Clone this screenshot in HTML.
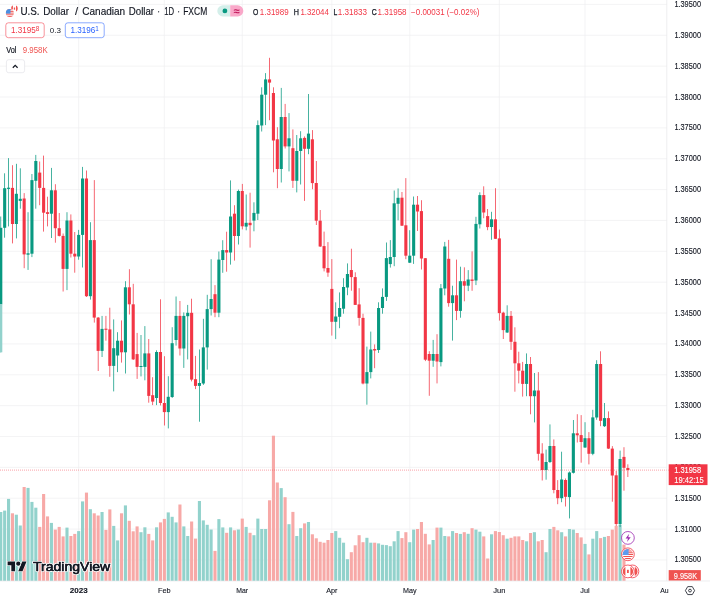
<!DOCTYPE html>
<html lang="en"><head><meta charset="utf-8"><title>USDCAD chart</title>
<style>
html,body{margin:0;padding:0;background:#fff;}
body{width:710px;height:600px;overflow:hidden;font-family:"Liberation Sans",sans-serif;}
svg{display:block;}
svg text{font-family:"Liberation Sans",sans-serif;}
.ax{font-size:8.2px;fill:#131722;stroke:#131722;stroke-width:0.12px;}
.tm{font-size:8.1px;fill:#131722;stroke:#131722;stroke-width:0.12px;}
.lg{font-size:8.4px;}
.lg[fill="#131722"]{stroke:#131722;stroke-width:0.25px;}
</style></head><body>
<svg width="710" height="600" viewBox="0 0 710 600">
<rect width="710" height="600" fill="#fff"/>
<g stroke="#EFEFF1" stroke-width="0.7" fill="none">
<line x1="0" y1="4.44" x2="666.8" y2="4.44"/>
<line x1="0" y1="35.3" x2="666.8" y2="35.3"/>
<line x1="0" y1="66.16" x2="666.8" y2="66.16"/>
<line x1="0" y1="97.02" x2="666.8" y2="97.02"/>
<line x1="0" y1="127.88" x2="666.8" y2="127.88"/>
<line x1="0" y1="158.74" x2="666.8" y2="158.74"/>
<line x1="0" y1="189.6" x2="666.8" y2="189.6"/>
<line x1="0" y1="220.46" x2="666.8" y2="220.46"/>
<line x1="0" y1="251.32" x2="666.8" y2="251.32"/>
<line x1="0" y1="282.18" x2="666.8" y2="282.18"/>
<line x1="0" y1="313.04" x2="666.8" y2="313.04"/>
<line x1="0" y1="343.9" x2="666.8" y2="343.9"/>
<line x1="0" y1="374.76" x2="666.8" y2="374.76"/>
<line x1="0" y1="405.62" x2="666.8" y2="405.62"/>
<line x1="0" y1="436.48" x2="666.8" y2="436.48"/>
<line x1="0" y1="467.34" x2="666.8" y2="467.34"/>
<line x1="0" y1="498.2" x2="666.8" y2="498.2"/>
<line x1="0" y1="529.06" x2="666.8" y2="529.06"/>
<line x1="0" y1="559.92" x2="666.8" y2="559.92"/>
<line x1="78.67" y1="0" x2="78.67" y2="581.0"/>
<line x1="164.36" y1="0" x2="164.36" y2="581.0"/>
<line x1="242.26" y1="0" x2="242.26" y2="581.0"/>
<line x1="331.85" y1="0" x2="331.85" y2="581.0"/>
<line x1="409.75" y1="0" x2="409.75" y2="581.0"/>
<line x1="499.34" y1="0" x2="499.34" y2="581.0"/>
<line x1="585.02" y1="0" x2="585.02" y2="581.0"/>
</g>
<g>
<rect x="-0.78" y="512" width="3.1" height="69" fill="#92D2CC"/>
<rect x="3.12" y="510.6" width="3.1" height="70.4" fill="#92D2CC"/>
<rect x="7.01" y="498.9" width="3.1" height="82.1" fill="#92D2CC"/>
<rect x="10.91" y="513.3" width="3.1" height="67.7" fill="#F7A9A7"/>
<rect x="14.8" y="514.7" width="3.1" height="66.3" fill="#92D2CC"/>
<rect x="18.7" y="525.5" width="3.1" height="55.5" fill="#92D2CC"/>
<rect x="22.6" y="487" width="3.1" height="94" fill="#F7A9A7"/>
<rect x="26.49" y="487.9" width="3.1" height="93.1" fill="#92D2CC"/>
<rect x="30.39" y="501.9" width="3.1" height="79.1" fill="#92D2CC"/>
<rect x="34.28" y="507.7" width="3.1" height="73.3" fill="#92D2CC"/>
<rect x="38.18" y="526.9" width="3.1" height="54.1" fill="#F7A9A7"/>
<rect x="42.07" y="494" width="3.1" height="87" fill="#F7A9A7"/>
<rect x="45.97" y="516.4" width="3.1" height="64.6" fill="#F7A9A7"/>
<rect x="49.86" y="522.9" width="3.1" height="58.1" fill="#92D2CC"/>
<rect x="53.76" y="529.6" width="3.1" height="51.4" fill="#F7A9A7"/>
<rect x="57.65" y="526.9" width="3.1" height="54.1" fill="#F7A9A7"/>
<rect x="61.55" y="536.4" width="3.1" height="44.6" fill="#F7A9A7"/>
<rect x="65.44" y="527.6" width="3.1" height="53.4" fill="#92D2CC"/>
<rect x="69.34" y="536" width="3.1" height="45" fill="#F7A9A7"/>
<rect x="73.23" y="533.9" width="3.1" height="47.1" fill="#F7A9A7"/>
<rect x="77.12" y="531.1" width="3.1" height="49.9" fill="#92D2CC"/>
<rect x="81.02" y="501.4" width="3.1" height="79.6" fill="#92D2CC"/>
<rect x="84.92" y="492.6" width="3.1" height="88.4" fill="#F7A9A7"/>
<rect x="88.81" y="509.2" width="3.1" height="71.8" fill="#92D2CC"/>
<rect x="92.7" y="513.3" width="3.1" height="67.7" fill="#F7A9A7"/>
<rect x="96.6" y="515.5" width="3.1" height="65.5" fill="#F7A9A7"/>
<rect x="100.5" y="512" width="3.1" height="69" fill="#92D2CC"/>
<rect x="104.39" y="529.9" width="3.1" height="51.1" fill="#F7A9A7"/>
<rect x="108.29" y="509.4" width="3.1" height="71.6" fill="#F7A9A7"/>
<rect x="112.18" y="525.9" width="3.1" height="55.1" fill="#92D2CC"/>
<rect x="116.08" y="540.4" width="3.1" height="40.6" fill="#92D2CC"/>
<rect x="119.97" y="513.3" width="3.1" height="67.7" fill="#F7A9A7"/>
<rect x="123.87" y="505.4" width="3.1" height="75.6" fill="#92D2CC"/>
<rect x="127.76" y="520.8" width="3.1" height="60.2" fill="#F7A9A7"/>
<rect x="131.65" y="531.3" width="3.1" height="49.7" fill="#F7A9A7"/>
<rect x="135.55" y="526.4" width="3.1" height="54.6" fill="#F7A9A7"/>
<rect x="139.44" y="532.2" width="3.1" height="48.8" fill="#92D2CC"/>
<rect x="143.34" y="527.3" width="3.1" height="53.7" fill="#92D2CC"/>
<rect x="147.23" y="533.9" width="3.1" height="47.1" fill="#F7A9A7"/>
<rect x="151.13" y="540.4" width="3.1" height="40.6" fill="#F7A9A7"/>
<rect x="155.02" y="527.3" width="3.1" height="53.7" fill="#92D2CC"/>
<rect x="158.92" y="522.4" width="3.1" height="58.6" fill="#F7A9A7"/>
<rect x="162.81" y="518.9" width="3.1" height="62.1" fill="#F7A9A7"/>
<rect x="166.71" y="512.4" width="3.1" height="68.6" fill="#92D2CC"/>
<rect x="170.6" y="516.8" width="3.1" height="64.2" fill="#92D2CC"/>
<rect x="174.5" y="522.4" width="3.1" height="58.6" fill="#92D2CC"/>
<rect x="178.39" y="504.5" width="3.1" height="76.5" fill="#F7A9A7"/>
<rect x="182.29" y="526.4" width="3.1" height="54.6" fill="#92D2CC"/>
<rect x="186.18" y="536" width="3.1" height="45" fill="#92D2CC"/>
<rect x="190.08" y="521.5" width="3.1" height="59.5" fill="#F7A9A7"/>
<rect x="193.97" y="538.6" width="3.1" height="42.4" fill="#F7A9A7"/>
<rect x="197.87" y="501" width="3.1" height="80" fill="#92D2CC"/>
<rect x="201.76" y="520.4" width="3.1" height="60.6" fill="#92D2CC"/>
<rect x="205.66" y="524.8" width="3.1" height="56.2" fill="#92D2CC"/>
<rect x="209.55" y="529.5" width="3.1" height="51.5" fill="#92D2CC"/>
<rect x="213.45" y="550.9" width="3.1" height="30.1" fill="#F7A9A7"/>
<rect x="217.34" y="519.1" width="3.1" height="61.9" fill="#92D2CC"/>
<rect x="221.24" y="527.4" width="3.1" height="53.6" fill="#92D2CC"/>
<rect x="225.13" y="532.8" width="3.1" height="48.2" fill="#F7A9A7"/>
<rect x="229.03" y="527.4" width="3.1" height="53.6" fill="#92D2CC"/>
<rect x="232.92" y="530.3" width="3.1" height="50.7" fill="#F7A9A7"/>
<rect x="236.82" y="529.5" width="3.1" height="51.5" fill="#92D2CC"/>
<rect x="240.71" y="518.6" width="3.1" height="62.4" fill="#F7A9A7"/>
<rect x="244.61" y="526.9" width="3.1" height="54.1" fill="#92D2CC"/>
<rect x="248.5" y="532.8" width="3.1" height="48.2" fill="#F7A9A7"/>
<rect x="252.4" y="535.2" width="3.1" height="45.8" fill="#92D2CC"/>
<rect x="256.3" y="518.6" width="3.1" height="62.4" fill="#92D2CC"/>
<rect x="260.19" y="529" width="3.1" height="52" fill="#92D2CC"/>
<rect x="264.08" y="529" width="3.1" height="52" fill="#92D2CC"/>
<rect x="267.98" y="500.3" width="3.1" height="80.7" fill="#F7A9A7"/>
<rect x="271.88" y="435.7" width="3.1" height="145.3" fill="#F7A9A7"/>
<rect x="275.77" y="482.5" width="3.1" height="98.5" fill="#F7A9A7"/>
<rect x="279.67" y="488.1" width="3.1" height="92.9" fill="#92D2CC"/>
<rect x="283.56" y="497.2" width="3.1" height="83.8" fill="#F7A9A7"/>
<rect x="287.45" y="524.2" width="3.1" height="56.8" fill="#92D2CC"/>
<rect x="291.35" y="511.9" width="3.1" height="69.1" fill="#F7A9A7"/>
<rect x="295.25" y="536" width="3.1" height="45" fill="#92D2CC"/>
<rect x="299.14" y="528.2" width="3.1" height="52.8" fill="#92D2CC"/>
<rect x="303.04" y="523.4" width="3.1" height="57.6" fill="#F7A9A7"/>
<rect x="306.93" y="522" width="3.1" height="59" fill="#92D2CC"/>
<rect x="310.82" y="534.3" width="3.1" height="46.7" fill="#F7A9A7"/>
<rect x="314.72" y="538.3" width="3.1" height="42.7" fill="#F7A9A7"/>
<rect x="318.62" y="541.8" width="3.1" height="39.2" fill="#F7A9A7"/>
<rect x="322.51" y="542.7" width="3.1" height="38.3" fill="#F7A9A7"/>
<rect x="326.41" y="540" width="3.1" height="41" fill="#F7A9A7"/>
<rect x="330.3" y="533" width="3.1" height="48" fill="#F7A9A7"/>
<rect x="334.19" y="531.1" width="3.1" height="49.9" fill="#92D2CC"/>
<rect x="338.09" y="537.8" width="3.1" height="43.2" fill="#92D2CC"/>
<rect x="341.99" y="542.7" width="3.1" height="38.3" fill="#92D2CC"/>
<rect x="345.88" y="559.2" width="3.1" height="21.8" fill="#92D2CC"/>
<rect x="349.78" y="552.2" width="3.1" height="28.8" fill="#F7A9A7"/>
<rect x="353.67" y="545.3" width="3.1" height="35.7" fill="#F7A9A7"/>
<rect x="357.56" y="535.2" width="3.1" height="45.8" fill="#F7A9A7"/>
<rect x="361.46" y="542.2" width="3.1" height="38.8" fill="#F7A9A7"/>
<rect x="365.36" y="537.8" width="3.1" height="43.2" fill="#92D2CC"/>
<rect x="369.25" y="542.7" width="3.1" height="38.3" fill="#92D2CC"/>
<rect x="373.14" y="542.7" width="3.1" height="38.3" fill="#F7A9A7"/>
<rect x="377.04" y="543.4" width="3.1" height="37.6" fill="#92D2CC"/>
<rect x="380.94" y="544.8" width="3.1" height="36.2" fill="#92D2CC"/>
<rect x="384.83" y="545.1" width="3.1" height="35.9" fill="#92D2CC"/>
<rect x="388.73" y="546.2" width="3.1" height="34.8" fill="#92D2CC"/>
<rect x="392.62" y="541.3" width="3.1" height="39.7" fill="#92D2CC"/>
<rect x="396.51" y="531.1" width="3.1" height="49.9" fill="#92D2CC"/>
<rect x="400.41" y="538.1" width="3.1" height="42.9" fill="#F7A9A7"/>
<rect x="404.31" y="532.2" width="3.1" height="48.8" fill="#F7A9A7"/>
<rect x="408.2" y="542.2" width="3.1" height="38.8" fill="#92D2CC"/>
<rect x="412.1" y="529.6" width="3.1" height="51.4" fill="#92D2CC"/>
<rect x="415.99" y="529" width="3.1" height="52" fill="#F7A9A7"/>
<rect x="419.88" y="522" width="3.1" height="59" fill="#F7A9A7"/>
<rect x="423.78" y="533.8" width="3.1" height="47.2" fill="#F7A9A7"/>
<rect x="427.68" y="544.4" width="3.1" height="36.6" fill="#F7A9A7"/>
<rect x="431.57" y="540" width="3.1" height="41" fill="#92D2CC"/>
<rect x="435.47" y="527.6" width="3.1" height="53.4" fill="#F7A9A7"/>
<rect x="439.36" y="527.6" width="3.1" height="53.4" fill="#92D2CC"/>
<rect x="443.25" y="536" width="3.1" height="45" fill="#92D2CC"/>
<rect x="447.15" y="536.4" width="3.1" height="44.6" fill="#F7A9A7"/>
<rect x="451.05" y="531.1" width="3.1" height="49.9" fill="#92D2CC"/>
<rect x="454.94" y="533" width="3.1" height="48" fill="#F7A9A7"/>
<rect x="458.83" y="533.9" width="3.1" height="47.1" fill="#92D2CC"/>
<rect x="462.73" y="532.2" width="3.1" height="48.8" fill="#F7A9A7"/>
<rect x="466.62" y="533.8" width="3.1" height="47.2" fill="#92D2CC"/>
<rect x="470.52" y="528.2" width="3.1" height="52.8" fill="#F7A9A7"/>
<rect x="474.42" y="529.6" width="3.1" height="51.4" fill="#92D2CC"/>
<rect x="478.31" y="531.7" width="3.1" height="49.3" fill="#92D2CC"/>
<rect x="482.2" y="536.4" width="3.1" height="44.6" fill="#F7A9A7"/>
<rect x="486.1" y="558.5" width="3.1" height="22.5" fill="#F7A9A7"/>
<rect x="490" y="534.3" width="3.1" height="46.7" fill="#92D2CC"/>
<rect x="493.89" y="531.1" width="3.1" height="49.9" fill="#F7A9A7"/>
<rect x="497.79" y="532" width="3.1" height="49" fill="#F7A9A7"/>
<rect x="501.68" y="535.2" width="3.1" height="45.8" fill="#F7A9A7"/>
<rect x="505.57" y="538.7" width="3.1" height="42.3" fill="#92D2CC"/>
<rect x="509.47" y="537.8" width="3.1" height="43.2" fill="#F7A9A7"/>
<rect x="513.37" y="536.4" width="3.1" height="44.6" fill="#F7A9A7"/>
<rect x="517.26" y="536.4" width="3.1" height="44.6" fill="#F7A9A7"/>
<rect x="521.15" y="540" width="3.1" height="41" fill="#F7A9A7"/>
<rect x="525.05" y="541.3" width="3.1" height="39.7" fill="#92D2CC"/>
<rect x="528.95" y="533" width="3.1" height="48" fill="#F7A9A7"/>
<rect x="532.84" y="532.2" width="3.1" height="48.8" fill="#92D2CC"/>
<rect x="536.74" y="541.3" width="3.1" height="39.7" fill="#F7A9A7"/>
<rect x="540.63" y="540" width="3.1" height="41" fill="#F7A9A7"/>
<rect x="544.52" y="552.2" width="3.1" height="28.8" fill="#92D2CC"/>
<rect x="548.42" y="529" width="3.1" height="52" fill="#92D2CC"/>
<rect x="552.32" y="526.9" width="3.1" height="54.1" fill="#F7A9A7"/>
<rect x="556.21" y="530.3" width="3.1" height="50.7" fill="#F7A9A7"/>
<rect x="560.11" y="532.2" width="3.1" height="48.8" fill="#92D2CC"/>
<rect x="564" y="536.4" width="3.1" height="44.6" fill="#F7A9A7"/>
<rect x="567.89" y="529" width="3.1" height="52" fill="#92D2CC"/>
<rect x="571.79" y="529.6" width="3.1" height="51.4" fill="#92D2CC"/>
<rect x="575.69" y="533" width="3.1" height="48" fill="#F7A9A7"/>
<rect x="579.58" y="537.4" width="3.1" height="43.6" fill="#F7A9A7"/>
<rect x="583.48" y="543.9" width="3.1" height="37.1" fill="#92D2CC"/>
<rect x="587.37" y="554.4" width="3.1" height="26.6" fill="#F7A9A7"/>
<rect x="591.26" y="538.7" width="3.1" height="42.3" fill="#92D2CC"/>
<rect x="595.16" y="531.1" width="3.1" height="49.9" fill="#92D2CC"/>
<rect x="599.06" y="538.1" width="3.1" height="42.9" fill="#F7A9A7"/>
<rect x="602.95" y="536.9" width="3.1" height="44.1" fill="#92D2CC"/>
<rect x="606.85" y="536" width="3.1" height="45" fill="#F7A9A7"/>
<rect x="610.74" y="529.6" width="3.1" height="51.4" fill="#F7A9A7"/>
<rect x="614.63" y="525.9" width="3.1" height="55.1" fill="#F7A9A7"/>
<rect x="618.53" y="524.7" width="3.1" height="56.3" fill="#92D2CC"/>
<rect x="622.42" y="544.6" width="3.1" height="36.4" fill="#F7A9A7"/>
</g>
<g>
<rect x="0.4" y="216.5" width="0.75" height="135.8" fill="#089981"/>
<rect x="-0.78" y="227.8" width="3.1" height="76.4" fill="#089981"/>
<rect x="4.29" y="173.3" width="0.75" height="64.4" fill="#089981"/>
<rect x="3.12" y="188.2" width="3.1" height="39.6" fill="#089981"/>
<rect x="8.19" y="158.1" width="0.75" height="68.3" fill="#089981"/>
<rect x="7.01" y="187.7" width="3.1" height="1.2" fill="#089981"/>
<rect x="12.09" y="165.2" width="0.75" height="78.2" fill="#F23645"/>
<rect x="10.91" y="187.9" width="3.1" height="36.1" fill="#F23645"/>
<rect x="15.98" y="163.8" width="0.75" height="74.6" fill="#089981"/>
<rect x="14.8" y="193.8" width="3.1" height="30.2" fill="#089981"/>
<rect x="19.88" y="168.3" width="0.75" height="40.4" fill="#089981"/>
<rect x="18.7" y="198.8" width="3.1" height="2.1" fill="#089981"/>
<rect x="23.77" y="193.1" width="0.75" height="75.1" fill="#F23645"/>
<rect x="22.6" y="198.5" width="3.1" height="55.9" fill="#F23645"/>
<rect x="27.66" y="212.2" width="0.75" height="57.7" fill="#089981"/>
<rect x="26.49" y="253.3" width="3.1" height="1.4" fill="#089981"/>
<rect x="31.56" y="174" width="0.75" height="83.1" fill="#089981"/>
<rect x="30.39" y="180.1" width="3.1" height="73.6" fill="#089981"/>
<rect x="35.45" y="154.9" width="0.75" height="53.8" fill="#089981"/>
<rect x="34.28" y="161" width="3.1" height="19.8" fill="#089981"/>
<rect x="39.35" y="161.5" width="0.75" height="43.7" fill="#F23645"/>
<rect x="38.18" y="172.6" width="3.1" height="15.3" fill="#F23645"/>
<rect x="43.25" y="155.6" width="0.75" height="76" fill="#F23645"/>
<rect x="42.07" y="187.9" width="3.1" height="24.8" fill="#F23645"/>
<rect x="47.14" y="196.7" width="0.75" height="29.7" fill="#F23645"/>
<rect x="45.97" y="212.2" width="3.1" height="1.7" fill="#F23645"/>
<rect x="51.04" y="167.9" width="0.75" height="70.1" fill="#089981"/>
<rect x="49.86" y="190.3" width="3.1" height="23.4" fill="#089981"/>
<rect x="54.93" y="184.2" width="0.75" height="58.5" fill="#F23645"/>
<rect x="53.76" y="190.3" width="3.1" height="37.9" fill="#F23645"/>
<rect x="58.83" y="213" width="0.75" height="23.5" fill="#F23645"/>
<rect x="57.65" y="228.2" width="3.1" height="7.7" fill="#F23645"/>
<rect x="62.72" y="233.5" width="0.75" height="58" fill="#F23645"/>
<rect x="61.55" y="235.9" width="3.1" height="33" fill="#F23645"/>
<rect x="66.61" y="212.2" width="0.75" height="77.9" fill="#089981"/>
<rect x="65.44" y="220.5" width="3.1" height="48.4" fill="#089981"/>
<rect x="70.51" y="214.4" width="0.75" height="43.1" fill="#F23645"/>
<rect x="69.34" y="220.5" width="3.1" height="33.2" fill="#F23645"/>
<rect x="74.41" y="232" width="0.75" height="40.7" fill="#F23645"/>
<rect x="73.23" y="253.7" width="3.1" height="2.8" fill="#F23645"/>
<rect x="78.3" y="229.9" width="0.75" height="29.8" fill="#089981"/>
<rect x="77.12" y="234.9" width="3.1" height="21.6" fill="#089981"/>
<rect x="82.2" y="166.9" width="0.75" height="100.6" fill="#089981"/>
<rect x="81.02" y="178.5" width="3.1" height="56.4" fill="#089981"/>
<rect x="86.09" y="170.5" width="0.75" height="126.5" fill="#F23645"/>
<rect x="84.92" y="178.5" width="3.1" height="117.7" fill="#F23645"/>
<rect x="89.98" y="222.2" width="0.75" height="77.4" fill="#089981"/>
<rect x="88.81" y="240.1" width="3.1" height="56.1" fill="#089981"/>
<rect x="93.88" y="180.1" width="0.75" height="142.5" fill="#F23645"/>
<rect x="92.7" y="240.1" width="3.1" height="77.5" fill="#F23645"/>
<rect x="97.78" y="317" width="0.75" height="54" fill="#F23645"/>
<rect x="96.6" y="317.6" width="3.1" height="33.3" fill="#F23645"/>
<rect x="101.67" y="315.9" width="0.75" height="41.1" fill="#089981"/>
<rect x="100.5" y="328.9" width="3.1" height="22" fill="#089981"/>
<rect x="105.56" y="315.9" width="0.75" height="24.8" fill="#F23645"/>
<rect x="104.39" y="328.7" width="3.1" height="1.1" fill="#F23645"/>
<rect x="109.46" y="307.7" width="0.75" height="69.1" fill="#F23645"/>
<rect x="108.29" y="329.4" width="3.1" height="36.5" fill="#F23645"/>
<rect x="113.36" y="319.4" width="0.75" height="72" fill="#089981"/>
<rect x="112.18" y="348.2" width="3.1" height="17.7" fill="#089981"/>
<rect x="117.25" y="332.2" width="0.75" height="39.9" fill="#089981"/>
<rect x="116.08" y="340.7" width="3.1" height="14.8" fill="#089981"/>
<rect x="121.14" y="320.4" width="0.75" height="42.2" fill="#F23645"/>
<rect x="119.97" y="340.7" width="3.1" height="11.6" fill="#F23645"/>
<rect x="125.04" y="281.2" width="0.75" height="92.3" fill="#089981"/>
<rect x="123.87" y="287.3" width="3.1" height="65" fill="#089981"/>
<rect x="128.94" y="269.2" width="0.75" height="45.3" fill="#F23645"/>
<rect x="127.76" y="287.3" width="3.1" height="17" fill="#F23645"/>
<rect x="132.83" y="283.8" width="0.75" height="76.2" fill="#F23645"/>
<rect x="131.65" y="304.3" width="3.1" height="55.1" fill="#F23645"/>
<rect x="136.72" y="332.9" width="0.75" height="46" fill="#F23645"/>
<rect x="135.55" y="354.1" width="3.1" height="12.8" fill="#F23645"/>
<rect x="140.62" y="335" width="0.75" height="41.4" fill="#089981"/>
<rect x="139.44" y="366" width="3.1" height="1" fill="#089981"/>
<rect x="144.51" y="326.1" width="0.75" height="54.2" fill="#089981"/>
<rect x="143.34" y="353.4" width="3.1" height="13.5" fill="#089981"/>
<rect x="148.41" y="339" width="0.75" height="63.7" fill="#F23645"/>
<rect x="147.23" y="353.4" width="3.1" height="42.5" fill="#F23645"/>
<rect x="152.3" y="377.2" width="0.75" height="27.9" fill="#F23645"/>
<rect x="151.13" y="395.2" width="3.1" height="6.4" fill="#F23645"/>
<rect x="156.2" y="350.3" width="0.75" height="54.8" fill="#089981"/>
<rect x="155.02" y="352" width="3.1" height="46" fill="#089981"/>
<rect x="160.09" y="299.3" width="0.75" height="106.1" fill="#F23645"/>
<rect x="158.92" y="352" width="3.1" height="51" fill="#F23645"/>
<rect x="163.99" y="356.2" width="0.75" height="69.3" fill="#F23645"/>
<rect x="162.81" y="403" width="3.1" height="9.1" fill="#F23645"/>
<rect x="167.88" y="376.2" width="0.75" height="52.2" fill="#089981"/>
<rect x="166.71" y="396.8" width="3.1" height="15.3" fill="#089981"/>
<rect x="171.78" y="327.2" width="0.75" height="70.8" fill="#089981"/>
<rect x="170.6" y="343.2" width="3.1" height="53.8" fill="#089981"/>
<rect x="175.67" y="296.5" width="0.75" height="49.1" fill="#089981"/>
<rect x="174.5" y="315.9" width="3.1" height="24.1" fill="#089981"/>
<rect x="179.57" y="301" width="0.75" height="54.5" fill="#F23645"/>
<rect x="178.39" y="315.9" width="3.1" height="32.6" fill="#F23645"/>
<rect x="183.46" y="312.4" width="0.75" height="55.5" fill="#089981"/>
<rect x="182.29" y="315.9" width="3.1" height="32.6" fill="#089981"/>
<rect x="187.36" y="304.9" width="0.75" height="54.5" fill="#089981"/>
<rect x="186.18" y="312.8" width="3.1" height="3.4" fill="#089981"/>
<rect x="191.25" y="298.7" width="0.75" height="82.7" fill="#F23645"/>
<rect x="190.08" y="312.8" width="3.1" height="66.8" fill="#F23645"/>
<rect x="195.15" y="355.9" width="0.75" height="33.2" fill="#F23645"/>
<rect x="193.97" y="379.2" width="3.1" height="6.7" fill="#F23645"/>
<rect x="199.04" y="349.5" width="0.75" height="72.2" fill="#089981"/>
<rect x="197.87" y="383" width="3.1" height="2.9" fill="#089981"/>
<rect x="202.94" y="318.8" width="0.75" height="66.1" fill="#089981"/>
<rect x="201.76" y="347.4" width="3.1" height="36.1" fill="#089981"/>
<rect x="206.83" y="294.8" width="0.75" height="74.8" fill="#089981"/>
<rect x="205.66" y="309.1" width="3.1" height="38.3" fill="#089981"/>
<rect x="210.73" y="259.2" width="0.75" height="56.3" fill="#089981"/>
<rect x="209.55" y="299" width="3.1" height="10.1" fill="#089981"/>
<rect x="214.62" y="285.1" width="0.75" height="32.1" fill="#F23645"/>
<rect x="213.45" y="294.2" width="3.1" height="18.5" fill="#F23645"/>
<rect x="218.52" y="251.5" width="0.75" height="65.7" fill="#089981"/>
<rect x="217.34" y="259.6" width="3.1" height="53.1" fill="#089981"/>
<rect x="222.41" y="240.2" width="0.75" height="32.6" fill="#089981"/>
<rect x="221.24" y="250.1" width="3.1" height="9.9" fill="#089981"/>
<rect x="226.31" y="231.7" width="0.75" height="40" fill="#F23645"/>
<rect x="225.13" y="250.1" width="3.1" height="2.4" fill="#F23645"/>
<rect x="230.2" y="180.4" width="0.75" height="84.2" fill="#089981"/>
<rect x="229.03" y="216.5" width="3.1" height="36" fill="#089981"/>
<rect x="234.1" y="205.2" width="0.75" height="55.4" fill="#F23645"/>
<rect x="232.92" y="213.7" width="3.1" height="22.3" fill="#F23645"/>
<rect x="237.99" y="189.6" width="0.75" height="54.9" fill="#089981"/>
<rect x="236.82" y="191" width="3.1" height="45" fill="#089981"/>
<rect x="241.89" y="183.9" width="0.75" height="45.5" fill="#F23645"/>
<rect x="240.71" y="191" width="3.1" height="35.3" fill="#F23645"/>
<rect x="245.78" y="194.5" width="0.75" height="35.8" fill="#089981"/>
<rect x="244.61" y="222.8" width="3.1" height="3.8" fill="#089981"/>
<rect x="249.68" y="192.7" width="0.75" height="54.9" fill="#F23645"/>
<rect x="248.5" y="222.8" width="3.1" height="2.4" fill="#F23645"/>
<rect x="253.57" y="202.3" width="0.75" height="29" fill="#089981"/>
<rect x="252.4" y="212.9" width="3.1" height="7.7" fill="#089981"/>
<rect x="257.47" y="120.4" width="0.75" height="99.6" fill="#089981"/>
<rect x="256.3" y="125.1" width="3.1" height="88.6" fill="#089981"/>
<rect x="261.37" y="87.3" width="0.75" height="44.2" fill="#089981"/>
<rect x="260.19" y="94.7" width="3.1" height="30.8" fill="#089981"/>
<rect x="265.26" y="73.1" width="0.75" height="52" fill="#089981"/>
<rect x="264.08" y="79.4" width="3.1" height="15.3" fill="#089981"/>
<rect x="269.16" y="57.8" width="0.75" height="62.4" fill="#F23645"/>
<rect x="267.98" y="79.4" width="3.1" height="3.2" fill="#F23645"/>
<rect x="273.05" y="87.3" width="0.75" height="85" fill="#F23645"/>
<rect x="271.88" y="93" width="3.1" height="47.5" fill="#F23645"/>
<rect x="276.94" y="127.2" width="0.75" height="61" fill="#F23645"/>
<rect x="275.77" y="139.3" width="3.1" height="29.7" fill="#F23645"/>
<rect x="280.84" y="87.9" width="0.75" height="94.6" fill="#089981"/>
<rect x="279.67" y="117" width="3.1" height="52" fill="#089981"/>
<rect x="284.74" y="103.9" width="0.75" height="44.6" fill="#F23645"/>
<rect x="283.56" y="117" width="3.1" height="29.4" fill="#F23645"/>
<rect x="288.63" y="113.1" width="0.75" height="58.3" fill="#089981"/>
<rect x="287.45" y="138.3" width="3.1" height="8.1" fill="#089981"/>
<rect x="292.53" y="129.4" width="0.75" height="58.5" fill="#F23645"/>
<rect x="291.35" y="148.2" width="3.1" height="32.6" fill="#F23645"/>
<rect x="296.42" y="135" width="0.75" height="57.4" fill="#089981"/>
<rect x="295.25" y="151" width="3.1" height="29.8" fill="#089981"/>
<rect x="300.31" y="131.2" width="0.75" height="53.3" fill="#089981"/>
<rect x="299.14" y="138.3" width="3.1" height="12.7" fill="#089981"/>
<rect x="304.21" y="136.4" width="0.75" height="64.5" fill="#F23645"/>
<rect x="303.04" y="137.9" width="3.1" height="10.9" fill="#F23645"/>
<rect x="308.11" y="94" width="0.75" height="60.2" fill="#089981"/>
<rect x="306.93" y="133.6" width="3.1" height="15.2" fill="#089981"/>
<rect x="312" y="130.1" width="0.75" height="59.1" fill="#F23645"/>
<rect x="310.82" y="139.3" width="3.1" height="43.8" fill="#F23645"/>
<rect x="315.9" y="161" width="0.75" height="64" fill="#F23645"/>
<rect x="314.72" y="183" width="3.1" height="37.7" fill="#F23645"/>
<rect x="319.79" y="210" width="0.75" height="37" fill="#F23645"/>
<rect x="318.62" y="220.7" width="3.1" height="25.8" fill="#F23645"/>
<rect x="323.69" y="231.6" width="0.75" height="39.8" fill="#F23645"/>
<rect x="322.51" y="246.1" width="3.1" height="22.2" fill="#F23645"/>
<rect x="327.58" y="242.1" width="0.75" height="34.7" fill="#F23645"/>
<rect x="326.41" y="268" width="3.1" height="4.6" fill="#F23645"/>
<rect x="331.48" y="259.1" width="0.75" height="76.5" fill="#F23645"/>
<rect x="330.3" y="288.9" width="3.1" height="32.9" fill="#F23645"/>
<rect x="335.37" y="302.3" width="0.75" height="36.8" fill="#089981"/>
<rect x="334.19" y="316.5" width="3.1" height="5.3" fill="#089981"/>
<rect x="339.27" y="292.4" width="0.75" height="35.8" fill="#089981"/>
<rect x="338.09" y="308" width="3.1" height="8.8" fill="#089981"/>
<rect x="343.16" y="278.2" width="0.75" height="35.5" fill="#089981"/>
<rect x="341.99" y="287" width="3.1" height="21.7" fill="#089981"/>
<rect x="347.06" y="263.4" width="0.75" height="31.8" fill="#089981"/>
<rect x="345.88" y="274" width="3.1" height="13.5" fill="#089981"/>
<rect x="350.95" y="248.7" width="0.75" height="42" fill="#F23645"/>
<rect x="349.78" y="270" width="3.1" height="7.1" fill="#F23645"/>
<rect x="354.85" y="272.3" width="0.75" height="32.7" fill="#F23645"/>
<rect x="353.67" y="277.1" width="3.1" height="27.8" fill="#F23645"/>
<rect x="358.74" y="288.2" width="0.75" height="37.5" fill="#F23645"/>
<rect x="357.56" y="304.4" width="3.1" height="13.5" fill="#F23645"/>
<rect x="362.63" y="313.7" width="0.75" height="70.7" fill="#F23645"/>
<rect x="361.46" y="317.9" width="3.1" height="65.6" fill="#F23645"/>
<rect x="366.53" y="346.6" width="0.75" height="58.1" fill="#089981"/>
<rect x="365.36" y="372.1" width="3.1" height="11.4" fill="#089981"/>
<rect x="370.43" y="331.6" width="0.75" height="46.8" fill="#089981"/>
<rect x="369.25" y="349.5" width="3.1" height="22.6" fill="#089981"/>
<rect x="374.32" y="344.4" width="0.75" height="23.8" fill="#F23645"/>
<rect x="373.14" y="349" width="3.1" height="1.5" fill="#F23645"/>
<rect x="378.22" y="302.3" width="0.75" height="50.6" fill="#089981"/>
<rect x="377.04" y="308" width="3.1" height="42" fill="#089981"/>
<rect x="382.11" y="288.4" width="0.75" height="25.3" fill="#089981"/>
<rect x="380.94" y="296.9" width="3.1" height="11.1" fill="#089981"/>
<rect x="386" y="242.5" width="0.75" height="58.4" fill="#089981"/>
<rect x="384.83" y="258.1" width="3.1" height="38.8" fill="#089981"/>
<rect x="389.9" y="240.1" width="0.75" height="27.5" fill="#089981"/>
<rect x="388.73" y="257" width="3.1" height="7.1" fill="#089981"/>
<rect x="393.8" y="190.5" width="0.75" height="75.7" fill="#089981"/>
<rect x="392.62" y="203.3" width="3.1" height="53.7" fill="#089981"/>
<rect x="397.69" y="188.4" width="0.75" height="31.9" fill="#089981"/>
<rect x="396.51" y="197.8" width="3.1" height="6" fill="#089981"/>
<rect x="401.59" y="192" width="0.75" height="34" fill="#F23645"/>
<rect x="400.41" y="197.7" width="3.1" height="28" fill="#F23645"/>
<rect x="405.48" y="178.1" width="0.75" height="81.1" fill="#F23645"/>
<rect x="404.31" y="225.3" width="3.1" height="30.4" fill="#F23645"/>
<rect x="409.38" y="230.2" width="0.75" height="32.8" fill="#089981"/>
<rect x="408.2" y="255.7" width="3.1" height="7" fill="#089981"/>
<rect x="413.27" y="196.5" width="0.75" height="67.4" fill="#089981"/>
<rect x="412.1" y="204.7" width="3.1" height="51" fill="#089981"/>
<rect x="417.17" y="196" width="0.75" height="35" fill="#F23645"/>
<rect x="415.99" y="204.7" width="3.1" height="6.8" fill="#F23645"/>
<rect x="421.06" y="200.2" width="0.75" height="69.3" fill="#F23645"/>
<rect x="419.88" y="211.1" width="3.1" height="47.4" fill="#F23645"/>
<rect x="424.96" y="258" width="0.75" height="103.1" fill="#F23645"/>
<rect x="423.78" y="258.2" width="3.1" height="101.5" fill="#F23645"/>
<rect x="428.85" y="351.2" width="0.75" height="44.6" fill="#F23645"/>
<rect x="427.68" y="354" width="3.1" height="6.7" fill="#F23645"/>
<rect x="432.75" y="339.9" width="0.75" height="26.9" fill="#089981"/>
<rect x="431.57" y="354" width="3.1" height="6.7" fill="#089981"/>
<rect x="436.64" y="334.2" width="0.75" height="49.2" fill="#F23645"/>
<rect x="435.47" y="354" width="3.1" height="7.5" fill="#F23645"/>
<rect x="440.54" y="284" width="0.75" height="82.4" fill="#089981"/>
<rect x="439.36" y="288.2" width="3.1" height="73.9" fill="#089981"/>
<rect x="444.43" y="241.9" width="0.75" height="53.4" fill="#089981"/>
<rect x="443.25" y="246.5" width="3.1" height="42" fill="#089981"/>
<rect x="448.33" y="239.9" width="0.75" height="66.8" fill="#F23645"/>
<rect x="447.15" y="258.8" width="3.1" height="44.3" fill="#F23645"/>
<rect x="452.22" y="285.7" width="0.75" height="54.9" fill="#089981"/>
<rect x="451.05" y="295.3" width="3.1" height="7.8" fill="#089981"/>
<rect x="456.12" y="259.6" width="0.75" height="60.5" fill="#F23645"/>
<rect x="454.94" y="295.3" width="3.1" height="15.6" fill="#F23645"/>
<rect x="460.01" y="266.7" width="0.75" height="51" fill="#089981"/>
<rect x="458.83" y="281.2" width="3.1" height="29.7" fill="#089981"/>
<rect x="463.91" y="267.3" width="0.75" height="34" fill="#F23645"/>
<rect x="462.73" y="281.2" width="3.1" height="4.5" fill="#F23645"/>
<rect x="467.8" y="270.1" width="0.75" height="21" fill="#089981"/>
<rect x="466.62" y="279.5" width="3.1" height="6.2" fill="#089981"/>
<rect x="471.69" y="251.4" width="0.75" height="39.4" fill="#F23645"/>
<rect x="470.52" y="279.5" width="3.1" height="1.4" fill="#F23645"/>
<rect x="475.59" y="216.8" width="0.75" height="68.3" fill="#089981"/>
<rect x="474.42" y="223.9" width="3.1" height="56.6" fill="#089981"/>
<rect x="479.49" y="192.3" width="0.75" height="36.2" fill="#089981"/>
<rect x="478.31" y="195.1" width="3.1" height="29.2" fill="#089981"/>
<rect x="483.38" y="186.3" width="0.75" height="31.9" fill="#F23645"/>
<rect x="482.2" y="195.1" width="3.1" height="17.4" fill="#F23645"/>
<rect x="487.28" y="209" width="0.75" height="21.2" fill="#F23645"/>
<rect x="486.1" y="216.1" width="3.1" height="11" fill="#F23645"/>
<rect x="491.17" y="211.8" width="0.75" height="28" fill="#089981"/>
<rect x="490" y="219.3" width="3.1" height="7.7" fill="#089981"/>
<rect x="495.06" y="188.2" width="0.75" height="50.8" fill="#F23645"/>
<rect x="493.89" y="219.3" width="3.1" height="19.5" fill="#F23645"/>
<rect x="498.96" y="229.6" width="0.75" height="91" fill="#F23645"/>
<rect x="497.79" y="238.4" width="3.1" height="74.7" fill="#F23645"/>
<rect x="502.86" y="311.7" width="0.75" height="27.3" fill="#F23645"/>
<rect x="501.68" y="312.7" width="3.1" height="17.4" fill="#F23645"/>
<rect x="506.75" y="305.3" width="0.75" height="27.7" fill="#089981"/>
<rect x="505.57" y="315.9" width="3.1" height="16.6" fill="#089981"/>
<rect x="510.65" y="311" width="0.75" height="38.9" fill="#F23645"/>
<rect x="509.47" y="315.9" width="3.1" height="25.9" fill="#F23645"/>
<rect x="514.54" y="327.3" width="0.75" height="64.4" fill="#F23645"/>
<rect x="513.37" y="341.8" width="3.1" height="21.5" fill="#F23645"/>
<rect x="518.43" y="351.7" width="0.75" height="31.7" fill="#F23645"/>
<rect x="517.26" y="363.3" width="3.1" height="7.4" fill="#F23645"/>
<rect x="522.33" y="361.9" width="0.75" height="34.7" fill="#F23645"/>
<rect x="521.15" y="370.7" width="3.1" height="13.2" fill="#F23645"/>
<rect x="526.22" y="353.4" width="0.75" height="42.8" fill="#089981"/>
<rect x="525.05" y="364" width="3.1" height="19.9" fill="#089981"/>
<rect x="530.12" y="357" width="0.75" height="57.3" fill="#F23645"/>
<rect x="528.95" y="364" width="3.1" height="32.2" fill="#F23645"/>
<rect x="534.01" y="373" width="0.75" height="49.4" fill="#089981"/>
<rect x="532.84" y="390.5" width="3.1" height="5.7" fill="#089981"/>
<rect x="537.91" y="372.1" width="0.75" height="88.5" fill="#F23645"/>
<rect x="536.74" y="390.5" width="3.1" height="63.3" fill="#F23645"/>
<rect x="541.8" y="443.2" width="0.75" height="37.3" fill="#F23645"/>
<rect x="540.63" y="453.5" width="3.1" height="16.5" fill="#F23645"/>
<rect x="545.7" y="449.6" width="0.75" height="30.1" fill="#089981"/>
<rect x="544.52" y="462" width="3.1" height="8" fill="#089981"/>
<rect x="549.59" y="424.4" width="0.75" height="38.6" fill="#089981"/>
<rect x="548.42" y="446" width="3.1" height="16" fill="#089981"/>
<rect x="553.49" y="439.4" width="0.75" height="53.9" fill="#F23645"/>
<rect x="552.32" y="446" width="3.1" height="44" fill="#F23645"/>
<rect x="557.38" y="480.1" width="0.75" height="24.1" fill="#F23645"/>
<rect x="556.21" y="490" width="3.1" height="8.2" fill="#F23645"/>
<rect x="561.28" y="451.7" width="0.75" height="50.5" fill="#089981"/>
<rect x="560.11" y="479.5" width="3.1" height="18.7" fill="#089981"/>
<rect x="565.17" y="478.5" width="0.75" height="28" fill="#F23645"/>
<rect x="564" y="480" width="3.1" height="16.8" fill="#F23645"/>
<rect x="569.07" y="471.5" width="0.75" height="46.9" fill="#089981"/>
<rect x="567.89" y="472.5" width="3.1" height="24.6" fill="#089981"/>
<rect x="572.96" y="420" width="0.75" height="53.5" fill="#089981"/>
<rect x="571.79" y="433.3" width="3.1" height="39.5" fill="#089981"/>
<rect x="576.86" y="414.2" width="0.75" height="28.3" fill="#F23645"/>
<rect x="575.69" y="433.3" width="3.1" height="2" fill="#F23645"/>
<rect x="580.75" y="415.1" width="0.75" height="47.6" fill="#F23645"/>
<rect x="579.58" y="435.1" width="3.1" height="6.9" fill="#F23645"/>
<rect x="584.65" y="422.2" width="0.75" height="25.8" fill="#089981"/>
<rect x="583.48" y="438.2" width="3.1" height="9.3" fill="#089981"/>
<rect x="588.54" y="432.1" width="0.75" height="32.3" fill="#F23645"/>
<rect x="587.37" y="438.2" width="3.1" height="15.6" fill="#F23645"/>
<rect x="592.44" y="409.8" width="0.75" height="45.4" fill="#089981"/>
<rect x="591.26" y="417.4" width="3.1" height="36.4" fill="#089981"/>
<rect x="596.33" y="360.2" width="0.75" height="59.6" fill="#089981"/>
<rect x="595.16" y="364" width="3.1" height="53.5" fill="#089981"/>
<rect x="600.23" y="351.3" width="0.75" height="74.9" fill="#F23645"/>
<rect x="599.06" y="364" width="3.1" height="56.8" fill="#F23645"/>
<rect x="604.12" y="403" width="0.75" height="24" fill="#089981"/>
<rect x="602.95" y="418.1" width="3.1" height="8.1" fill="#089981"/>
<rect x="608.02" y="411.4" width="0.75" height="37.6" fill="#F23645"/>
<rect x="606.85" y="418.1" width="3.1" height="30.5" fill="#F23645"/>
<rect x="611.91" y="446.1" width="0.75" height="55.6" fill="#F23645"/>
<rect x="610.74" y="448.6" width="3.1" height="26.9" fill="#F23645"/>
<rect x="615.81" y="470.9" width="0.75" height="55.1" fill="#F23645"/>
<rect x="614.63" y="475.3" width="3.1" height="48.7" fill="#F23645"/>
<rect x="619.7" y="450.6" width="0.75" height="76.4" fill="#089981"/>
<rect x="618.53" y="459" width="3.1" height="65" fill="#089981"/>
<rect x="623.6" y="447.2" width="0.75" height="43.5" fill="#F23645"/>
<rect x="622.42" y="456.9" width="3.1" height="10.9" fill="#F23645"/>
<rect x="627.5" y="464.3" width="0.75" height="12.7" fill="#F23645"/>
<rect x="626.32" y="468" width="3.1" height="2" fill="#F23645"/>
</g>
<rect x="0" y="304" width="2.3" height="48.3" fill="#92D2CC"/>
<line x1="0" y1="470.1" x2="668.7" y2="470.1" stroke="#F23645" stroke-width="0.7" stroke-dasharray="0.8 1.2" opacity="0.85"/>
<line x1="666.8" y1="0" x2="666.8" y2="581.0" stroke="#E6E6EA" stroke-width="0.7"/>
<line x1="0" y1="581.0" x2="710" y2="581.0" stroke="#E6E6EA" stroke-width="0.7"/>
<g class="ax">
<text x="674.4" y="6.94" textLength="26.6" lengthAdjust="spacingAndGlyphs">1.39500</text>
<text x="674.4" y="37.8" textLength="26.6" lengthAdjust="spacingAndGlyphs">1.39000</text>
<text x="674.4" y="68.66" textLength="26.6" lengthAdjust="spacingAndGlyphs">1.38500</text>
<text x="674.4" y="99.52" textLength="26.6" lengthAdjust="spacingAndGlyphs">1.38000</text>
<text x="674.4" y="130.38" textLength="26.6" lengthAdjust="spacingAndGlyphs">1.37500</text>
<text x="674.4" y="161.24" textLength="26.6" lengthAdjust="spacingAndGlyphs">1.37000</text>
<text x="674.4" y="192.1" textLength="26.6" lengthAdjust="spacingAndGlyphs">1.36500</text>
<text x="674.4" y="222.96" textLength="26.6" lengthAdjust="spacingAndGlyphs">1.36000</text>
<text x="674.4" y="253.82" textLength="26.6" lengthAdjust="spacingAndGlyphs">1.35500</text>
<text x="674.4" y="284.68" textLength="26.6" lengthAdjust="spacingAndGlyphs">1.35000</text>
<text x="674.4" y="315.54" textLength="26.6" lengthAdjust="spacingAndGlyphs">1.34500</text>
<text x="674.4" y="346.4" textLength="26.6" lengthAdjust="spacingAndGlyphs">1.34000</text>
<text x="674.4" y="377.26" textLength="26.6" lengthAdjust="spacingAndGlyphs">1.33500</text>
<text x="674.4" y="408.12" textLength="26.6" lengthAdjust="spacingAndGlyphs">1.33000</text>
<text x="674.4" y="438.98" textLength="26.6" lengthAdjust="spacingAndGlyphs">1.32500</text>
<text x="674.4" y="469.84" textLength="26.6" lengthAdjust="spacingAndGlyphs">1.32000</text>
<text x="674.4" y="500.7" textLength="26.6" lengthAdjust="spacingAndGlyphs">1.31500</text>
<text x="674.4" y="531.56" textLength="26.6" lengthAdjust="spacingAndGlyphs">1.31000</text>
<text x="674.4" y="562.42" textLength="26.6" lengthAdjust="spacingAndGlyphs">1.30500</text>
</g>
<rect x="668.7" y="464.3" width="38.8" height="20.8" fill="#F23645"/>
<text x="674.2" y="473.3" class="ax" style="fill:#fff;stroke:#fff" textLength="27" lengthAdjust="spacingAndGlyphs">1.31958</text>
<text x="674.2" y="482.8" class="ax" style="fill:#fff;stroke:#fff" textLength="29.6" lengthAdjust="spacingAndGlyphs">19:42:15</text>
<rect x="668.7" y="570.1" width="32.1" height="10.4" fill="#EF5350"/>
<text x="673.8" y="578.5" class="ax" style="fill:#fff;stroke:#fff" textLength="23.3" lengthAdjust="spacingAndGlyphs">9.958K</text>
<g class="tm" text-anchor="middle">
<text x="78.67" y="593.2" font-weight="bold" textLength="17.9" lengthAdjust="spacingAndGlyphs">2023</text>
<text x="164.36" y="593.2" textLength="12.7" lengthAdjust="spacingAndGlyphs">Feb</text>
<text x="242.26" y="593.2" textLength="11.8" lengthAdjust="spacingAndGlyphs">Mar</text>
<text x="331.85" y="593.2" textLength="11.3" lengthAdjust="spacingAndGlyphs">Apr</text>
<text x="409.75" y="593.2" textLength="13.5" lengthAdjust="spacingAndGlyphs">May</text>
<text x="499.34" y="593.2" textLength="12.2" lengthAdjust="spacingAndGlyphs">Jun</text>
<text x="585.02" y="593.2" textLength="9.3" lengthAdjust="spacingAndGlyphs">Jul</text>
</g>
<text x="660.3" y="593.2" class="tm" textLength="8.4" lengthAdjust="spacingAndGlyphs">Au</text>
<polygon points="694.6,590.6 692.3,594.58 687.7,594.58 685.4,590.6 687.7,586.62 692.3,586.62" fill="none" stroke="#131722" stroke-width="0.8" stroke-linejoin="round"/>
<circle cx="690" cy="590.6" r="1.4" fill="none" stroke="#131722" stroke-width="0.8"/>
<defs><clipPath id="cpca"><circle cx="14.4" cy="8.6" r="3.3"/></clipPath><clipPath id="cpus"><circle cx="9.8" cy="13.1" r="4"/></clipPath><clipPath id="cpus2"><circle cx="627.9" cy="554.3" r="5.2"/></clipPath><clipPath id="cpca2"><circle cx="627.9" cy="571.4" r="5.2"/></clipPath><clipPath id="cpca3"><circle cx="632.4" cy="571.4" r="5.2"/></clipPath></defs>
<g>
<g clip-path="url(#cpca)"><rect x="11" y="5" width="7" height="7.5" fill="#fff"/><rect x="11" y="5" width="1.9" height="7.5" fill="#EF5350"/><rect x="16" y="5" width="2" height="7.5" fill="#EF5350"/><rect x="13.8" y="7.5" width="1.3" height="2.2" fill="#EF5350"/></g>
<circle cx="9.8" cy="13.1" r="4.7" fill="#fff"/>
<g clip-path="url(#cpus)"><rect x="5.5" y="9" width="9" height="8.5" fill="#fff"/><path d="M5.5 9.7h9M5.5 11.4h9M5.5 13.1h9M5.5 14.8h9M5.5 16.5h9" stroke="#EF5350" stroke-width="0.95"/><rect x="5.5" y="9" width="5" height="4.6" fill="#4A90E2"/></g>
</g>
<text y="14.8" style="font-size:10.4px;fill:#131722;stroke:#131722;stroke-width:0.15px"><tspan x="20.4" textLength="19.2" lengthAdjust="spacingAndGlyphs">U.S.</tspan> <tspan x="43.2" textLength="25.8" lengthAdjust="spacingAndGlyphs">Dollar</tspan> <tspan x="74.9" textLength="3.1" lengthAdjust="spacingAndGlyphs">/</tspan> <tspan x="82.3" textLength="42.9" lengthAdjust="spacingAndGlyphs">Canadian</tspan> <tspan x="128.8" textLength="25.3" lengthAdjust="spacingAndGlyphs">Dollar</tspan> <tspan x="157.4" textLength="2.4" lengthAdjust="spacingAndGlyphs">·</tspan> <tspan x="164.2" textLength="9.9" lengthAdjust="spacingAndGlyphs">1D</tspan> <tspan x="177.4" textLength="2.4" lengthAdjust="spacingAndGlyphs">·</tspan> <tspan x="183.2" textLength="24" lengthAdjust="spacingAndGlyphs">FXCM</tspan></text>
<path d="M222.9 5.3h7.3v11.2h-7.3a5.6 5.6 0 0 1 0-11.2z" fill="#D4EFEA"/>
<path d="M230.2 5.3h7.5a5.6 5.6 0 0 1 0 11.2h-7.5z" fill="#F9A8C9"/>
<circle cx="224.9" cy="10.9" r="2.4" fill="#089981"/>
<text x="236.6" y="14.6" text-anchor="middle" style="font-size:11px;fill:#C2185B;font-weight:bold">≈</text>
<text x="253" y="14.8" class="lg" fill="#131722" textLength="5.3" lengthAdjust="spacingAndGlyphs">O</text>
<text x="259.8" y="14.8" class="lg" fill="#F23645" textLength="28.9" lengthAdjust="spacingAndGlyphs">1.31989</text>
<text x="293.8" y="14.8" class="lg" fill="#131722" textLength="5.2" lengthAdjust="spacingAndGlyphs">H</text>
<text x="300.4" y="14.8" class="lg" fill="#F23645" textLength="28.5" lengthAdjust="spacingAndGlyphs">1.32044</text>
<text x="333.4" y="14.8" class="lg" fill="#131722" textLength="3.8" lengthAdjust="spacingAndGlyphs">L</text>
<text x="337.8" y="14.8" class="lg" fill="#F23645" textLength="29.3" lengthAdjust="spacingAndGlyphs">1.31833</text>
<text x="371.7" y="14.8" class="lg" fill="#131722" textLength="5" lengthAdjust="spacingAndGlyphs">C</text>
<text x="377.5" y="14.8" class="lg" fill="#F23645" textLength="29.1" lengthAdjust="spacingAndGlyphs">1.31958</text>
<text x="411.1" y="14.8" class="lg" fill="#F23645" textLength="68.3" lengthAdjust="spacingAndGlyphs">−0.00031 (−0.02%)</text>
<rect x="5.8" y="22.8" width="38.4" height="14.9" rx="2.6" fill="#fff" stroke="#F23645" stroke-opacity="0.6" stroke-width="0.9"/>
<text x="11" y="33.1" style="font-size:8.2px" fill="#F23645" textLength="28.4" lengthAdjust="spacingAndGlyphs">1.3195<tspan dy="-1.8" style="font-size:6.4px">8</tspan></text>
<text x="49.8" y="33.1" style="font-size:8px" fill="#131722">0.3</text>
<rect x="65.3" y="22.8" width="38.9" height="14.9" rx="2.6" fill="#fff" stroke="#2962FF" stroke-opacity="0.6" stroke-width="0.9"/>
<text x="70.5" y="33.1" style="font-size:8.2px" fill="#2962FF" textLength="28.4" lengthAdjust="spacingAndGlyphs">1.3196<tspan dy="-1.8" style="font-size:6.4px">1</tspan></text>
<text x="6.3" y="52.7" style="font-size:8.2px;stroke:#131722;stroke-width:0.2px" fill="#131722" textLength="10.2" lengthAdjust="spacingAndGlyphs">Vol</text>
<text x="22.8" y="52.7" style="font-size:8.2px" fill="#EF5350" textLength="24.9" lengthAdjust="spacingAndGlyphs">9.958K</text>
<rect x="6.4" y="59.7" width="18.2" height="13" rx="2.3" fill="#fff" stroke="#E2E3E8" stroke-width="0.7"/>
<path d="M12.8 67.7l2.4-2.4 2.4 2.4" fill="none" stroke="#131722" stroke-width="1.25"/>
<circle cx="627.9" cy="537.9" r="6.4" fill="#fff" stroke="#9C27B0" stroke-width="0.8"/>
<path d="M629.2 533.8l-3.6 4.6h2.4l-1 3.6 3.7-4.8h-2.5z" fill="#9C27B0"/>
<circle cx="627.9" cy="554.3" r="6.4" fill="#fff" stroke="#F23645" stroke-width="0.8"/>
<g clip-path="url(#cpus2)"><rect x="622" y="549" width="12" height="11" fill="#fff"/><path d="M622 549.9h12M622 552.1h12M622 554.3h12M622 556.5h12M622 558.7h12" stroke="#EF5350" stroke-width="1.2"/><rect x="622" y="549" width="6.6" height="6" fill="#5B9CF0"/></g>
<circle cx="632.4" cy="571.4" r="6.4" fill="#fff" stroke="#F23645" stroke-width="0.8"/>
<g clip-path="url(#cpca3)"><rect x="634.8" y="566" width="3" height="11" fill="#EF5350"/></g>
<circle cx="627.9" cy="571.4" r="6.4" fill="#fff" stroke="#F23645" stroke-width="0.8"/>
<g clip-path="url(#cpca2)"><rect x="622.5" y="566" width="2.9" height="11" fill="#EF5350"/><rect x="630.4" y="566" width="3" height="11" fill="#EF5350"/><rect x="627" y="569.8" width="1.8" height="3.2" fill="#EF5350"/></g>
<g stroke="#fff" stroke-width="2.2" stroke-linejoin="round" paint-order="stroke" fill="#131722">
<g transform="translate(7.6,559.4) scale(0.533)"><path d="M14 22H7V11H0V4h14v18zM28 22h-8l7.500-18h8L28 22z"/><circle cx="20" cy="8" r="4"/></g>
<text x="33" y="571.1" style="font-size:13.6px;stroke-width:2.2px" textLength="77.2" lengthAdjust="spacingAndGlyphs">TradingView</text>
<text x="33" y="571.1" style="font-size:13.6px;stroke:#131722;stroke-width:0.55px" textLength="77.2" lengthAdjust="spacingAndGlyphs">TradingView</text>
</g>
</svg></body></html>
